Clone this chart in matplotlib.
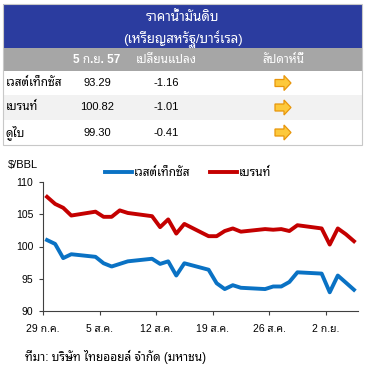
import matplotlib
matplotlib.use("Agg")
import matplotlib.pyplot as plt
from matplotlib import font_manager
from matplotlib.patches import Rectangle, Polygon
import numpy as np
import pandas as pd

# pick a Thai-capable font, Latin/digits from Liberation Sans
names = {f.name for f in font_manager.fontManager.ttflist}
thai = next((n for n in ['Noto Sans Thai Looped', 'Sarabun', 'Noto Sans Thai', 'Anuphan', 'Chakra Petch']
             if n in names), 'DejaVu Sans')
plt.rcParams['font.family'] = ['Liberation Sans', thai, 'DejaVu Sans']

# table data
title = ['ราคาน้ำมันดิบ', '(เหรียญสหรัฐ/บาร์เรล)']
col_heads = ['5 ก.ย. 57', 'เปลี่ยนแปลง', 'สัปดาห์นี้']
row_names = ['เวสต์เท็กซัส', 'เบรนท์', 'ดูไบ']
prices = [93.29, 100.82, 99.30]
changes = [-1.16, -1.01, -0.41]

# chart data
dates = ['2014-07-29', '2014-07-30', '2014-07-31', '2014-08-01',
         '2014-08-04', '2014-08-05', '2014-08-06', '2014-08-07', '2014-08-08',
         '2014-08-11', '2014-08-12', '2014-08-13', '2014-08-14', '2014-08-15',
         '2014-08-18', '2014-08-19', '2014-08-20', '2014-08-21', '2014-08-22',
         '2014-08-25', '2014-08-26', '2014-08-27', '2014-08-28', '2014-08-29',
         '2014-09-01', '2014-09-02', '2014-09-03', '2014-09-04', '2014-09-05']
wti = [101.0, 100.4, 98.2, 98.8,
       98.4, 97.4, 96.9, 97.3, 97.7,
       98.1, 97.3, 97.7, 95.5, 97.4,
       96.4, 94.3, 93.4, 94.0, 93.6,
       93.4, 93.8, 93.8, 94.5, 96.0,
       95.8, 92.9, 95.5, 94.4, 93.29]
brent = [107.7, 106.6, 106.0, 104.8,
         105.4, 104.6, 104.6, 105.6, 105.2,
         104.7, 103.0, 104.2, 102.0, 103.5,
         101.6, 101.6, 102.4, 102.8, 102.3,
         102.7, 102.6, 102.7, 102.4, 103.3,
         102.8, 100.3, 102.8, 101.9, 100.82]
tick_dates = ['2014-07-29', '2014-08-05', '2014-08-12', '2014-08-19', '2014-08-26', '2014-09-02']
tick_labels = ['29 ก.ค.', '5 ส.ค.', '12 ส.ค.', '19 ส.ค.', '26 ส.ค.', '2 ก.ย.']
series_names = ['เวสต์เท็กซัส', 'เบรนท์']

W, H = 372, 368
fig = plt.figure(figsize=(W / 100, H / 100), dpi=100)

# ---- table drawn in pixel coords
tab = fig.add_axes([0, 0, 1, 1])
tab.set_xlim(0, W)
tab.set_ylim(H, 0)
tab.axis('off')

x0, x1 = 3, 362
tab.add_patch(Rectangle((x0, 4), x1 - x0, 44, fc='#2b3c9f', ec='none'))
tab.add_patch(Rectangle((x0, 48), x1 - x0, 23, fc='#a6a6a6', ec='none'))
row_top = [71, 95, 120]
row_h = [24, 25, 25]
row_fc = ['white', '#f2f2f2', 'white']
for t, h, c in zip(row_top, row_h, row_fc):
    tab.add_patch(Rectangle((x0, t), x1 - x0, h, fc=c, ec='none'))
tab.add_patch(Rectangle((x0, 4), x1 - x0, 141, fc='none', ec='#c8c8c8', lw=0.8))

tab.text(183, 18, title[0], color='white', fontsize=9.5, ha='center', va='center')
tab.text(183, 39, title[1], color='white', fontsize=9.5, ha='center', va='center')

col_x = [97, 166, 283]
for cx, s in zip(col_x, col_heads):
    tab.text(cx, 60, s, color='white', fontsize=8.5, fontweight='bold', ha='center', va='center')

for i, (nm, p, c) in enumerate(zip(row_names, prices, changes)):
    yc = row_top[i] + row_h[i] / 2
    tab.text(6, yc, nm, fontsize=8.5, fontweight='bold', ha='left', va='center')
    tab.text(col_x[0], yc, f'{p:.2f}', fontsize=8, ha='center', va='center')
    tab.text(col_x[1], yc, f'{c:.2f}', fontsize=8, ha='center', va='center')
    ax_ = col_x[2]
    arrow = np.array([[-8, -3.5], [1, -3.5], [1, -7.5], [8, 0], [1, 7.5], [1, 3.5], [-8, 3.5]])
    tab.add_patch(Polygon(arrow + [ax_, yc], closed=True, fc='#fdc93c', ec='#e8960c', lw=0.9))

# ---- line chart
d = pd.to_datetime(dates)
start = d[0]
x = (d - start).days.values + 0.5
xt = (pd.to_datetime(tick_dates) - start).days.values

ax = fig.add_axes([43 / W, 1 - 311 / H, 315 / W, 129 / H])
ax.plot(x, wti, color='#0a72c4', lw=2.8, label=series_names[0], solid_joinstyle='round')
ax.plot(x, brent, color='#c40000', lw=2.8, label=series_names[1], solid_joinstyle='round')
ax.set_xlim(0, 39)
ax.set_ylim(90, 110)
ax.set_yticks([90, 95, 100, 105, 110])
ax.set_xticks(xt)
ax.set_xticklabels(tick_labels)
ax.tick_params(axis='both', labelsize=7.5, length=3, width=0.8, color='#404040', direction='out')
ax.tick_params(axis='x', pad=6)
ax.tick_params(axis='y', pad=4, labelsize=7.5)
for s in ['top', 'right']:
    ax.spines[s].set_visible(False)
for s in ['left', 'bottom']:
    ax.spines[s].set_color('#404040')
    ax.spines[s].set_linewidth(0.8)

fig.text(8 / W, 1 - 165 / H, '$/BBL', fontsize=8, ha='left', va='center')
fig.legend(loc='center', bbox_to_anchor=(188 / W, 1 - 173 / H), ncol=2, frameon=False,
           fontsize=8.5, handlelength=2.3, handletextpad=0.15, columnspacing=1.6)
fig.text(25 / W, 1 - 357 / H, 'ที่มา: บริษัท ไทยออยล์ จำกัด (มหาชน)', fontsize=8.5, ha='left', va='center')

fig.savefig('out.png', dpi=100)
